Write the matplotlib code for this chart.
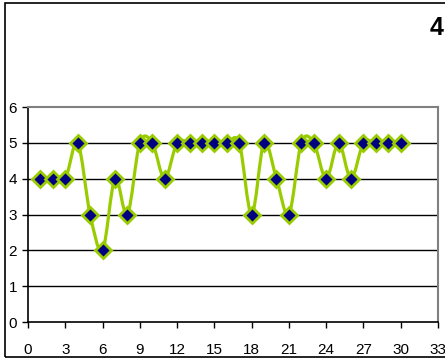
import numpy as np
from matplotlib import pyplot as plt
from matplotlib.path import Path
from matplotlib.patches import PathPatch, Rectangle

# Data
x_vals = np.arange(1, 31)
y_vals = np.array([4, 4, 4, 5, 3, 2, 4, 3, 5, 5, 4, 5, 5, 5, 5,
                   5, 5, 3, 5, 4, 3, 5, 5, 4, 5, 4, 5, 5, 5, 5])
x_ticks = np.arange(0, 34, 3)
y_ticks = np.arange(0, 7, 1)
title = "4"

line_color = '#99CC00'
marker_color = '#000080'

plt.rcParams['font.family'] = ['Liberation Sans', 'DejaVu Sans']

fig = plt.figure(figsize=(4.45, 3.6), dpi=100)
ax = fig.add_axes([28 / 445, 1 - 322 / 360, 410 / 445, 215 / 360])

# Smoothed line (Excel-style Bezier through the points)
pts = np.column_stack([x_vals, y_vals]).astype(float)
verts = [pts[0]]
codes = [Path.MOVETO]
n = len(pts)
for i in range(n - 1):
    p0 = pts[i - 1] if i > 0 else pts[i]
    p1 = pts[i]
    p2 = pts[i + 1]
    p3 = pts[i + 2] if i + 2 < n else pts[i + 1]
    c1 = p1 + (p2 - p0) / 6
    c2 = p2 - (p3 - p1) / 6
    verts += [c1, c2, p2]
    codes += [Path.CURVE4] * 3
ax.add_patch(PathPatch(Path(verts, codes), facecolor='none',
                       edgecolor=line_color, lw=2.3, zorder=3))

ax.plot(x_vals, y_vals, linestyle='none', marker='D', markersize=8.5,
        markerfacecolor=marker_color, markeredgecolor=line_color,
        markeredgewidth=2, zorder=4)

ax.set_xlim(0, 33)
ax.set_ylim(0, 6)
ax.set_xticks(x_ticks)
ax.set_yticks(y_ticks)
for yv in y_ticks[1:-1]:
    ax.axhline(yv, color='black', lw=1, zorder=1)

for s in ['top', 'right']:
    ax.spines[s].set_color('#808080')
    ax.spines[s].set_linewidth(1.5)
for s in ['left', 'bottom']:
    ax.spines[s].set_color('black')
    ax.spines[s].set_linewidth(1.2)

ax.tick_params(axis='both', direction='out', length=4, width=1,
               labelsize=11, colors='black')
ax.tick_params(axis='x', pad=11)
ax.tick_params(axis='y', pad=4)

fig.text(443 / 445, 1 - 28 / 360, title, ha='right', va='center',
         fontsize=18, fontweight='bold')

fig.add_artist(Rectangle((5 / 445, 1 - 357 / 360), 1.0, 354 / 360,
                         transform=fig.transFigure, fill=False,
                         edgecolor='black', lw=1.2))

fig.savefig('out.png', dpi=100)
